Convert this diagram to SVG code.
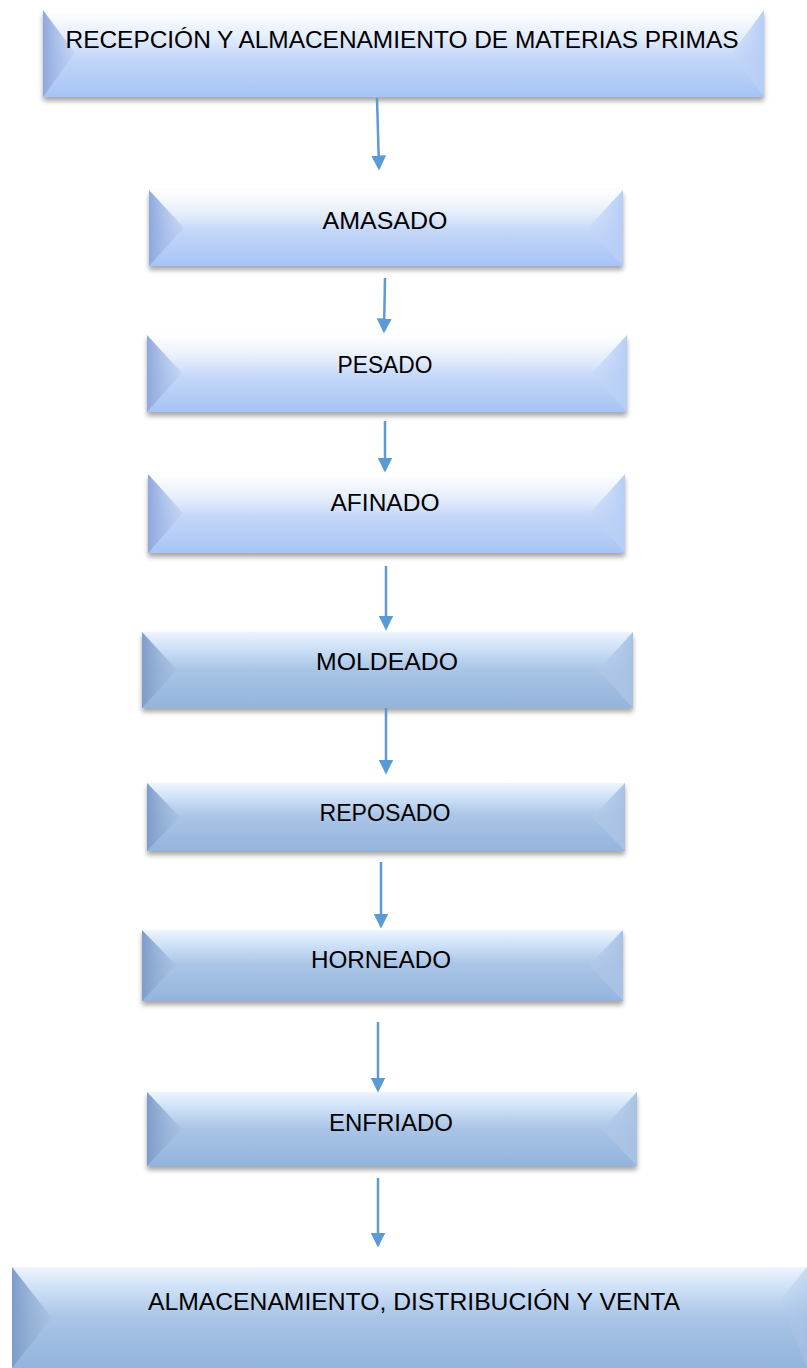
<svg xmlns="http://www.w3.org/2000/svg" width="807" height="1368" viewBox="0 0 807 1368">
<style>
.t{font-family:"Liberation Sans",Arial,sans-serif;font-size:24px;fill:#000;text-anchor:middle}
.a{stroke:#5b9bd5;stroke-width:2.5;fill:none;marker-end:url(#ah)}
</style>
<defs>
<marker id="ah" markerWidth="6" markerHeight="6" refX="5" refY="3" orient="auto" markerUnits="strokeWidth"><path d="M0,0 L6,3 L0,6 Z" fill="#5b9bd5"/></marker>
<linearGradient id="g1" x1="0" y1="0" x2="0" y2="1"><stop offset="0" stop-color="#ffffff"/><stop offset="0.3" stop-color="#e6eefc"/><stop offset="0.55" stop-color="#c3d6f8"/><stop offset="1" stop-color="#a7c4f5"/></linearGradient>
<linearGradient id="g2" x1="0" y1="0" x2="0" y2="1"><stop offset="0" stop-color="#eef5fd"/><stop offset="0.2" stop-color="#cfe2f8"/><stop offset="0.5" stop-color="#a9c4e6"/><stop offset="1" stop-color="#93b4dd"/></linearGradient>
<linearGradient id="l1" x1="0" y1="0" x2="1" y2="0"><stop offset="0" stop-color="#8ea8dc"/><stop offset="1" stop-color="#bcd0f4" stop-opacity="0.6"/></linearGradient>
<linearGradient id="l2" x1="0" y1="0" x2="1" y2="0"><stop offset="0" stop-color="#7d9cc8"/><stop offset="1" stop-color="#a5bfe0" stop-opacity="0.6"/></linearGradient>
<linearGradient id="r1" x1="0" y1="0" x2="1" y2="0"><stop offset="0" stop-color="#c4d7f8" stop-opacity="0.5"/><stop offset="1" stop-color="#b6cdf6"/></linearGradient>
<linearGradient id="r2" x1="0" y1="0" x2="1" y2="0"><stop offset="0" stop-color="#b4cbe8" stop-opacity="0.5"/><stop offset="1" stop-color="#a8c1e3"/></linearGradient>
<filter id="sh" x="-5%" y="-10%" width="110%" height="130%"><feDropShadow dx="0" dy="4" stdDeviation="2.5" flood-color="#000" flood-opacity="0.35"/></filter>
</defs>

<g id="n1">
<rect x="43" y="10" width="721" height="87" fill="url(#g1)" filter="url(#sh)"/>
<polygon points="43,10 75,53 43,97" fill="url(#l1)"/>
<polygon points="764,10 732,53 764,97" fill="url(#r1)"/>
<text class="t" x="402" y="48" textLength="673" lengthAdjust="spacingAndGlyphs">RECEPCIÓN Y ALMACENAMIENTO DE MATERIAS PRIMAS</text>
</g>
<g id="n2">
<rect x="149" y="190" width="474" height="76" fill="url(#g1)" filter="url(#sh)"/>
<polygon points="149,190 184,228 149,266" fill="url(#l1)"/>
<polygon points="623,190 588,228 623,266" fill="url(#r1)"/>
<text class="t" x="385" y="229" textLength="125" lengthAdjust="spacingAndGlyphs">AMASADO</text>
</g>
<g id="n3">
<rect x="147" y="335" width="480" height="77" fill="url(#g1)" filter="url(#sh)"/>
<polygon points="147,335 182,373 147,412" fill="url(#l1)"/>
<polygon points="627,335 592,373 627,412" fill="url(#r1)"/>
<text class="t" x="385" y="373" textLength="95" lengthAdjust="spacingAndGlyphs">PESADO</text>
</g>
<g id="n4">
<rect x="148" y="474" width="477" height="79" fill="url(#g1)" filter="url(#sh)"/>
<polygon points="148,474 183,513 148,553" fill="url(#l1)"/>
<polygon points="625,474 590,513 625,553" fill="url(#r1)"/>
<text class="t" x="385" y="511" textLength="109" lengthAdjust="spacingAndGlyphs">AFINADO</text>
</g>
<g id="n5">
<rect x="142" y="632" width="491" height="76" fill="url(#g2)" filter="url(#sh)"/>
<polygon points="142,632 177,670 142,708" fill="url(#l2)"/>
<polygon points="633,632 598,670 633,708" fill="url(#r2)"/>
<text class="t" x="387" y="670" textLength="142" lengthAdjust="spacingAndGlyphs">MOLDEADO</text>
</g>
<g id="n6">
<rect x="147" y="783" width="478" height="68" fill="url(#g2)" filter="url(#sh)"/>
<polygon points="147,783 180,817 147,851" fill="url(#l2)"/>
<polygon points="625,783 592,817 625,851" fill="url(#r2)"/>
<text class="t" x="385" y="821" textLength="131" lengthAdjust="spacingAndGlyphs">REPOSADO</text>
</g>
<g id="n7">
<rect x="142" y="930" width="481" height="71" fill="url(#g2)" filter="url(#sh)"/>
<polygon points="142,930 176,965 142,1001" fill="url(#l2)"/>
<polygon points="623,930 589,965 623,1001" fill="url(#r2)"/>
<text class="t" x="381" y="968" textLength="140" lengthAdjust="spacingAndGlyphs">HORNEADO</text>
</g>
<g id="n8">
<rect x="147" y="1092" width="490" height="74" fill="url(#g2)" filter="url(#sh)"/>
<polygon points="147,1092 182,1129 147,1166" fill="url(#l2)"/>
<polygon points="637,1092 602,1129 637,1166" fill="url(#r2)"/>
<text class="t" x="391" y="1131" textLength="124" lengthAdjust="spacingAndGlyphs">ENFRIADO</text>
</g>
<g id="n9">
<rect x="12" y="1267" width="795" height="101" fill="url(#g2)"/>
<polygon points="12,1267 52,1318 12,1368" fill="url(#l2)"/>
<polygon points="807,1267 780,1300 807,1368" fill="url(#r2)" opacity="0.5"/>
<text class="t" x="414" y="1310" textLength="532" lengthAdjust="spacingAndGlyphs">ALMACENAMIENTO, DISTRIBUCIÓN Y VENTA</text>
</g>

<g id="connectors">
<line class="a" x1="377" y1="98" x2="379" y2="168"/>
<line class="a" x1="385" y1="278" x2="384" y2="331"/>
<line class="a" x1="385" y1="421" x2="385" y2="470"/>
<line class="a" x1="386" y1="566" x2="386" y2="628"/>
<line class="a" x1="386" y1="708" x2="386" y2="772"/>
<line class="a" x1="381" y1="862" x2="381" y2="926"/>
<line class="a" x1="378" y1="1022" x2="378" y2="1090"/>
<line class="a" x1="378" y1="1178" x2="378" y2="1245"/>
</g>
</svg>
